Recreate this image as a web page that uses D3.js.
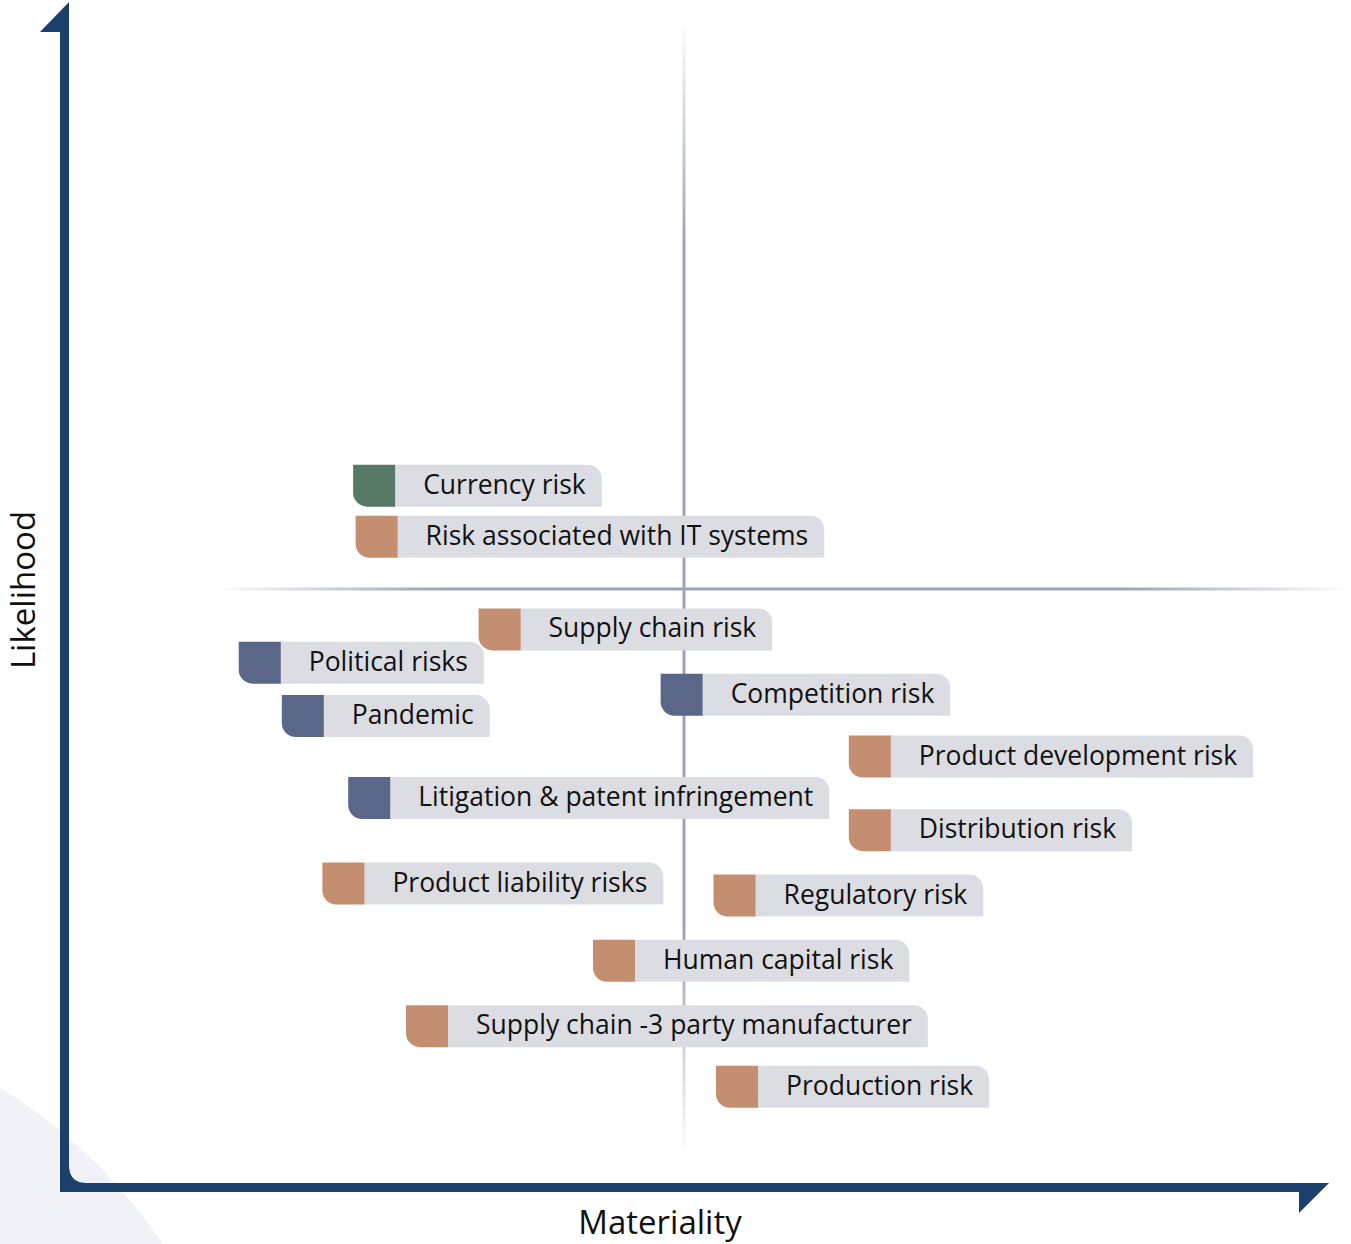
<!DOCTYPE html>
<html>
<head>
<meta charset="utf-8">
<script src="https://cdn.jsdelivr.net/npm/d3@7"></script>
<style>
  body { margin: 0; background: #fff; }
  text { font-family: "Open Sans", sans-serif; }
</style>
</head>
<body>
<div id="chart"></div>
<script>
// risk names, their group, and where they sit (materiality, likelihood)
var risks = ["Currency risk", "Risk associated with IT systems", "Supply chain risk", "Political risks",
    "Pandemic", "Competition risk", "Product development risk", "Litigation & patent infringement",
    "Distribution risk", "Product liability risks", "Regulatory risk", "Human capital risk",
    "Supply chain -3 party manufacturer", "Production risk"];
var groups = ["financial", "operational", "operational", "external",
    "external", "external", "operational", "external",
    "operational", "operational", "operational", "operational",
    "operational", "operational"];
var materiality = [2.31, 2.33, 3.33, 1.38, 1.73, 4.81, 6.34, 2.27, 6.34, 2.06, 5.24, 4.26, 2.74, 5.26];
var likelihood = [5.87, 5.44, 4.66, 4.38, 3.93, 4.11, 3.59, 3.24, 2.97, 2.52, 2.42, 1.87, 1.32, 0.81];

var groupNames = ["financial", "operational", "external"];
var groupColors = ["#577a66", "#c48e70", "#5b6789"];

var width = 1351, height = 1244;
var svg = d3.select("#chart").append("svg")
    .attr("width", width)
    .attr("height", height);

var x_scale = d3.scaleLinear().domain([0, 10]).range([69, 1299]);
var y_scale = d3.scaleLinear().domain([0, 10]).range([1183, -5]);
var color = d3.scaleOrdinal().domain(groupNames).range(groupColors);

var defs = svg.append("defs");
function fadeGradient(id, x2, y2) {
    var g = defs.append("linearGradient").attr("id", id)
        .attr("x1", 0).attr("y1", 0).attr("x2", x2).attr("y2", y2);
    g.append("stop").attr("offset", "0%").attr("stop-color", "#9ea2b6").attr("stop-opacity", 0);
    g.append("stop").attr("offset", "20%").attr("stop-color", "#9ea2b6").attr("stop-opacity", 1);
    g.append("stop").attr("offset", "80%").attr("stop-color", "#9ea2b6").attr("stop-opacity", 1);
    g.append("stop").attr("offset", "100%").attr("stop-color", "#9ea2b6").attr("stop-opacity", 0);
}
fadeGradient("fadeV", 0, 1);
fadeGradient("fadeH", 1, 0);

// soft circle in the lower left corner
svg.append("circle")
    .attr("cx", -284).attr("cy", 1547).attr("r", 540)
    .style("fill", "#f1f2f7");

// quadrant dividers
svg.append("rect")
    .attr("x", x_scale(5) - 1.5).attr("y", 20)
    .attr("width", 3).attr("height", 1135)
    .style("fill", "url(#fadeV)");
svg.append("rect")
    .attr("x", 215).attr("y", y_scale(5) - 1.5)
    .attr("width", 1136).attr("height", 3)
    .style("fill", "url(#fadeH)");

// axes with arrow heads
var navy = "#1a406b";
var ax = 60, aw = 9, by = 1183;
svg.append("path")
    .attr("d", "M" + ax + "," + (by + aw) + "V32H40L" + (ax + aw) + ",2V" + (by - 18) +
        "Q" + (ax + aw) + "," + by + " " + (ax + aw + 18) + "," + by +
        "H1329L1299,1213V" + (by + aw) + "Z")
    .style("fill", navy);

svg.append("text")
    .attr("text-anchor", "middle")
    .attr("transform", "translate(35,590)rotate(-90)")
    .style("font-size", "33px")
    .style("fill", "#111")
    .text("Likelihood");

svg.append("text")
    .attr("text-anchor", "middle")
    .attr("x", 660).attr("y", 1234)
    .style("font-size", "33px")
    .style("fill", "#111")
    .text("Materiality");

// risk labels
var data = risks.map(function(d, i) {
    return { name: d, group: groups[i], m: materiality[i], l: likelihood[i] };
});

var box = 42, r = 14;
var g = svg.selectAll(".risk")
    .data(data)
    .enter().append("g")
    .attr("class", "risk")
    .attr("transform", function(d) {
        return "translate(" + x_scale(d.m) + "," + (y_scale(d.l) - box / 2) + ")";
    });

var bg = g.append("path").style("fill", "#dcdde3");

g.append("path")
    .attr("d", "M0,0H" + box + "V" + box + "H" + r + "A" + r + "," + r + " 0 0 1 0," + (box - r) + "Z")
    .style("fill", function(d) { return color(d.group); });

var label = g.append("text")
    .attr("x", box + 28)
    .attr("y", box / 2 + 8)
    .style("font-size", "26.5px")
    .style("fill", "#111")
    .text(function(d) { return d.name; });

label.each(function(d) {
    d.tw = this.getComputedTextLength();
});

bg.attr("d", function(d) {
    var w = box + 28 + d.tw + 16;
    return "M" + (box - 1) + ",0H" + (w - r) + "A" + r + "," + r + " 0 0 1 " + w + "," + r +
        "V" + box + "H" + (box - 1) + "Z";
});
</script>
</body>
</html>
